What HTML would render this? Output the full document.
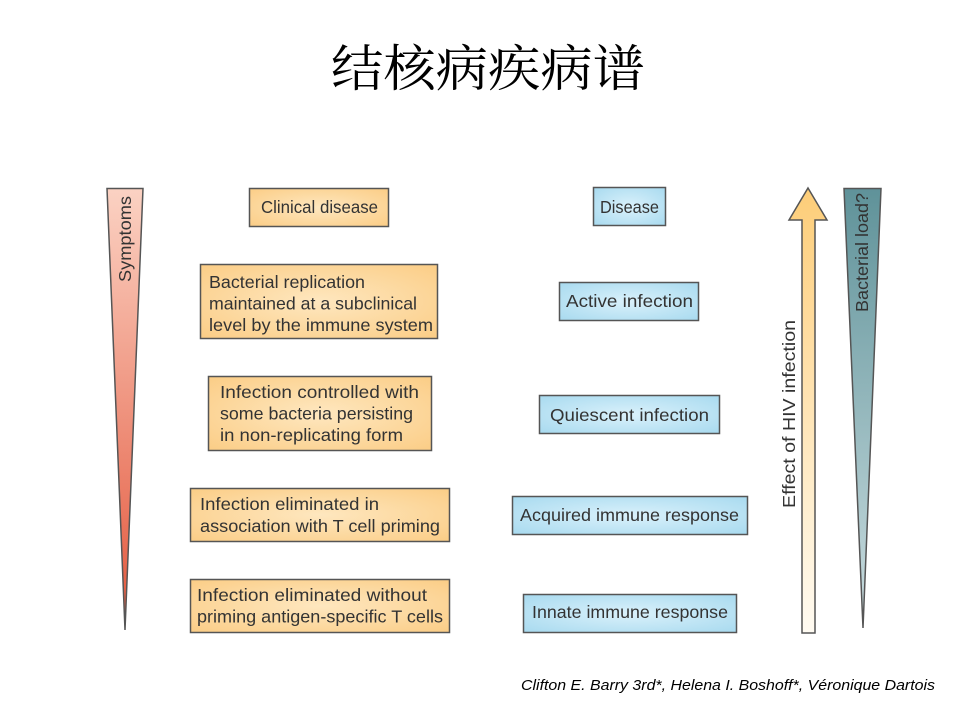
<!DOCTYPE html>
<html><head><meta charset="utf-8">
<style>
html,body{margin:0;padding:0;background:#fff;}
svg{display:block;}
.t{font-family:"Liberation Sans",Arial,sans-serif;font-size:17.5px;fill:#333;}
.title{font-family:"Liberation Serif","Noto Serif CJK SC",serif;font-size:50px;fill:#000;}
.cite{font-family:"Liberation Sans",Arial,sans-serif;font-size:15px;font-style:italic;fill:#000;}
</style></head>
<body>
<svg width="960" height="720" viewBox="0 0 960 720" xmlns="http://www.w3.org/2000/svg">
<defs>
  <linearGradient id="gSym" x1="0" y1="0" x2="0" y2="1">
    <stop offset="0" stop-color="#fbd2c3"/>
    <stop offset="1" stop-color="#e3553a"/>
  </linearGradient>
  <linearGradient id="gBac" x1="0" y1="0" x2="0" y2="1">
    <stop offset="0" stop-color="#5f9299"/>
    <stop offset="1" stop-color="#cadde0"/>
  </linearGradient>
  <linearGradient id="gArr" x1="0" y1="0" x2="0" y2="1">
    <stop offset="0" stop-color="#fdcd78"/>
    <stop offset="1" stop-color="#fffbf2"/>
  </linearGradient>
  <radialGradient id="gOr" cx="0.5" cy="0.5" r="0.7">
    <stop offset="0" stop-color="#fee7bf"/>
    <stop offset="1" stop-color="#fbcd86"/>
  </radialGradient>
  <radialGradient id="gBl" cx="0.5" cy="0.5" r="0.7">
    <stop offset="0" stop-color="#daf1fb"/>
    <stop offset="1" stop-color="#a8daef"/>
  </radialGradient>
</defs>

<!-- Title -->
<text class="title" x="488" y="86" text-anchor="middle" textLength="314" lengthAdjust="spacingAndGlyphs">结核病疾病谱</text>

<!-- Symptoms triangle -->
<polygon points="107,188.5 143,188.5 125,630" fill="url(#gSym)" stroke="#555" stroke-width="1.5"/>
<text class="t" transform="translate(131,282) rotate(-90)" textLength="86" lengthAdjust="spacingAndGlyphs">Symptoms</text>

<!-- Bacterial load triangle -->
<polygon points="844,188.5 881,188.5 863,628" fill="url(#gBac)" stroke="#555" stroke-width="1.5"/>
<text class="t" transform="translate(868,312) rotate(-90)" textLength="119" lengthAdjust="spacingAndGlyphs">Bacterial load?</text>

<!-- HIV arrow -->
<polygon points="808,188 827,220 815,220 815,633 802,633 802,220 789,220" fill="url(#gArr)" stroke="#555" stroke-width="1.5" stroke-linejoin="miter"/>
<text class="t" transform="translate(795,508) rotate(-90)" textLength="188" lengthAdjust="spacingAndGlyphs">Effect of HIV infection</text>

<!-- Orange boxes -->
<g fill="url(#gOr)" stroke="#555" stroke-width="1.5">
  <rect x="249.5" y="188.5" width="139" height="38"/>
  <rect x="200.5" y="264.5" width="237" height="74"/>
  <rect x="208.5" y="376.5" width="223" height="74"/>
  <rect x="190.5" y="488.5" width="259" height="53"/>
  <rect x="190.5" y="579.5" width="259" height="53"/>
</g>
<text class="t" x="261" y="213" textLength="117" lengthAdjust="spacingAndGlyphs">Clinical disease</text>

<text class="t" x="209" y="288" textLength="156" lengthAdjust="spacingAndGlyphs">Bacterial replication</text>
<text class="t" x="209" y="309.5" textLength="208" lengthAdjust="spacingAndGlyphs">maintained at a subclinical</text>
<text class="t" x="209" y="331" textLength="224" lengthAdjust="spacingAndGlyphs">level by the immune system</text>

<text class="t" x="220" y="398" textLength="199" lengthAdjust="spacingAndGlyphs">Infection controlled with</text>
<text class="t" x="220" y="419.5" textLength="193" lengthAdjust="spacingAndGlyphs">some bacteria persisting</text>
<text class="t" x="220" y="441" textLength="183" lengthAdjust="spacingAndGlyphs">in non-replicating form</text>

<text class="t" x="200" y="510" textLength="179" lengthAdjust="spacingAndGlyphs">Infection eliminated in</text>
<text class="t" x="200" y="532" textLength="240" lengthAdjust="spacingAndGlyphs">association with T cell priming</text>

<text class="t" x="197" y="601" textLength="230" lengthAdjust="spacingAndGlyphs">Infection eliminated without</text>
<text class="t" x="197" y="622.5" textLength="246" lengthAdjust="spacingAndGlyphs">priming antigen-specific T cells</text>

<!-- Blue boxes -->
<g fill="url(#gBl)" stroke="#555" stroke-width="1.5">
  <rect x="593.5" y="187.5" width="72" height="38"/>
  <rect x="559.5" y="282.5" width="139" height="38"/>
  <rect x="539.5" y="395.5" width="180" height="38"/>
  <rect x="512.5" y="496.5" width="235" height="38"/>
  <rect x="523.5" y="594.5" width="213" height="38"/>
</g>
<text class="t" x="600" y="213" textLength="59" lengthAdjust="spacingAndGlyphs">Disease</text>
<text class="t" x="566" y="307" textLength="127" lengthAdjust="spacingAndGlyphs">Active infection</text>
<text class="t" x="550" y="421" textLength="159" lengthAdjust="spacingAndGlyphs">Quiescent infection</text>
<text class="t" x="520" y="521" textLength="219" lengthAdjust="spacingAndGlyphs">Acquired immune response</text>
<text class="t" x="532" y="618" textLength="196" lengthAdjust="spacingAndGlyphs">Innate immune response</text>

<!-- Citation -->
<text class="cite" x="521" y="690" textLength="414" lengthAdjust="spacingAndGlyphs">Clifton E. Barry 3rd*, Helena I. Boshoff*, Véronique Dartois</text>
</svg>
</body></html>
